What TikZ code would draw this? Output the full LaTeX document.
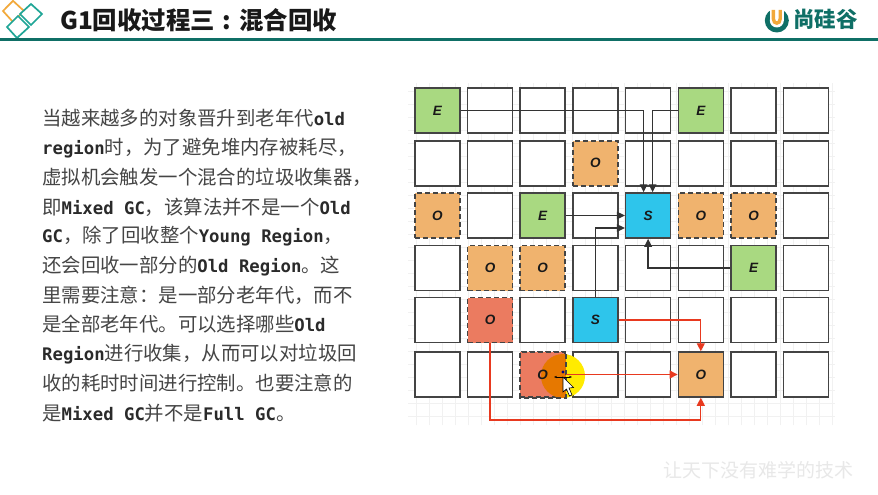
\documentclass[tikz,border=0pt]{standalone}
\usepackage{fontspec}
\usetikzlibrary{arrows.meta,calc}
\setmainfont{Noto Sans CJK SC}
\newfontfamily\lat{Liberation Sans}
\newfontfamily\mon{DejaVu Sans Mono}
\newcommand{\mo}[1]{{\mon\bfseries\fontsize{17.3}{17.3}\selectfont\color{monoc}#1}}
\definecolor{teal1}{HTML}{0F6F66}
\definecolor{teal2}{HTML}{1FA596}
\definecolor{orng}{HTML}{F2A93B}
\definecolor{monoc}{HTML}{2A2A2A}
\definecolor{txtc}{HTML}{454545}
\definecolor{bord}{HTML}{444444}
\definecolor{gr}{HTML}{A9D981}
\definecolor{ol}{HTML}{F0B36E}
\definecolor{bl}{HTML}{2EC5EB}
\definecolor{rd}{HTML}{EB7B60}
\definecolor{redl}{HTML}{E8391F}
\definecolor{hiy}{HTML}{FFEB00}
\definecolor{hio}{HTML}{E67800}
\definecolor{gridc}{HTML}{F1F1F1}
\tikzset{
  cell/.style={draw=bord,fill=white,line width=1.5pt,minimum size=45pt,inner sep=0pt,
    font=\lat\bfseries\itshape\fontsize{13.5}{13.5}\selectfont,text=black!90},
  dashline/.style={dash pattern=on 5pt off 3pt},
  gcell/.style={cell,fill=gr},
  ocell/.style={cell,fill=ol},
  dcell/.style={cell,fill=ol,dashline},
  scell/.style={cell,fill=bl},
  rcell/.style={cell,fill=rd,dashline},
  blk/.style={draw=black!80,line width=1.3pt,-{Triangle[length=8pt,width=7.5pt]}},
  rdl/.style={draw=redl,line width=1.3pt,-{Triangle[length=8pt,width=8pt]}},
  para/.style={anchor=west,inner sep=0pt,text=txtc,font=\fontsize{19.4}{19.4}\selectfont},
  dmd/.style={line width=1.7pt,fill=white}
}
\newcommand{\mkcell}[4]{%
  \pgfmathsetmacro\ry{{110.5,163.3,215.5,268,320,374.5}[#2]}%
  \pgfmathsetmacro\rx{437.3+52.7*#3}%
  \node[#4] (c#2#3) at (\rx,\ry) {#1};}
\begin{document}
\begin{tikzpicture}[x=1pt,y=-1pt]
\useasboundingbox (0,0) rectangle (878,495);
\fill[white] (0,0) rectangle (878,495);
% header
\draw[dmd,draw=orng] (13,0.8) -- (24,11) -- (13,22) -- (3,11) -- cycle;
\draw[dmd,draw=teal2] (31,4) -- (42,14) -- (31,25) -- (20,14) -- cycle;
\draw[dmd,draw=teal2] (18,16) -- (29,27) -- (17,38) -- (7,27) -- cycle;
\draw[teal1,line width=3pt] (0,39.5) -- (878,39.5);
\node[anchor=west,inner sep=0pt,font=\fontsize{24.4}{24.4}\selectfont\bfseries,text=black!90] (title) at (60,20) {G1回收过程三\makebox[1em][c]{:}混合回收};
% logo
\fill[teal1] (776.8,20.5) circle (12);
\fill[white] (776.8,20.5) circle (7);
\fill[white] (769.8,7) rectangle (783.8,20);
\draw[orng,line width=3.4pt] (773.4,10) -- (773.4,19) .. controls (773.4,24.5) and (780.2,24.5) .. (780.2,19) -- (780.2,10);
\node[anchor=west,inner sep=0pt,font=\fontsize{21.5}{21.5}\selectfont\bfseries,text=teal1] (brand) at (793,19) {尚硅谷};
% faint grid
\draw[gridc,line width=.5pt] (408,83) grid[step=13pt] (835,425);
% paragraph
\node[para] (l1) at (42,118) {当越来越多的对象晋升到老年代\mo{old}};
\node[para] (l2) at (42,148) {\mo{region}时，为了避免堆内存被耗尽，};
\node[para] (l3) at (42,177) {虚拟机会触发一个混合的垃圾收集器，};
\node[para] (l4) at (42,207) {即\mo{Mixed GC}，该算法并不是一个\mo{Old}};
\node[para] (l5) at (42,236) {\mo{GC}，除了回收整个\mo{Young Region}，};
\node[para] (l6) at (42,266) {还会回收一部分的\mo{Old Region}。这};
\node[para] (l7) at (42,295) {里需要注意：是一部分老年代，而不};
\node[para] (l8) at (42,324) {是全部老年代。可以选择哪些\mo{Old}};
\node[para] (l9) at (42,354) {\mo{Region}进行收集，从而可以对垃圾回};
\node[para] (l10) at (42,383) {收的耗时时间进行控制。也要注意的};
\node[para] (l11) at (42,413) {是\mo{Mixed GC}并不是\mo{Full GC}。};
% empty cells
\foreach \r/\c in {0/1,0/2,0/3,0/4,0/6,0/7,
  1/0,1/1,1/2,1/4,1/5,1/6,1/7,
  2/1,2/3,2/7,
  3/0,3/3,3/4,3/5,3/7,
  4/0,4/2,4/4,4/5,4/6,4/7,
  5/0,5/1,5/3,5/4,5/6,5/7}{\mkcell{}{\r}{\c}{cell}}
% filled cells
\mkcell{E}{0}{0}{gcell}
\mkcell{E}{0}{5}{gcell}
\mkcell{O}{1}{3}{dcell}
\mkcell{O}{2}{0}{dcell}
\mkcell{E}{2}{2}{gcell}
\mkcell{S}{2}{4}{scell}
\mkcell{O}{2}{5}{dcell}
\mkcell{O}{2}{6}{dcell}
\mkcell{O}{3}{1}{dcell}
\mkcell{O}{3}{2}{dcell}
\mkcell{E}{3}{6}{gcell}
\mkcell{O}{4}{1}{rcell}
\mkcell{S}{4}{3}{scell}
\mkcell{O}{5}{5}{ocell}
% highlight behind the mouse cursor
\coordinate (hi) at (563,376);
\fill[hiy] (hi) circle (22);
\mkcell{}{5}{2}{rcell}
\begin{scope}
  \clip (c52.south west) rectangle (c52.north east);
  \fill[hio] (hi) circle (22);
\end{scope}
\draw[bord,line width=1.5pt,dashline] (c52.south west) rectangle (c52.north east);
\node[font=\lat\bfseries\itshape\fontsize{13.5}{13.5}\selectfont,text=black!90,inner sep=0pt] (olab) at (c52) {O};
% black connectors
\draw[blk] (c00.east) -| ([xshift=-4.5pt]c24.north);
\draw[blk] (c05.west) -| ([xshift=4.5pt]c24.north);
\draw[blk] (c22.east) -- (c24.west);
\draw[blk] (c43.north) |- ([yshift=-12.5pt]c24.west);
\draw[blk] (c36.west) -| (c24.south);
% red connectors
\draw[rdl] (c43.east) -| (c55.north);
\draw[rdl] (c52.east) -- (c55.west);
\coordinate (low) at (490,420);
\draw[rdl] (c41.south) -- (low) -| (c55.south);
% cursor
\draw[black,line width=.8pt,{Stealth[length=3pt]}-{Stealth[length=3pt]}] (554,377) -- (572,377);
\fill[blue!50!black] (563,372) circle (1.6);
\draw[black,fill=white,line width=.6pt] (563,377) -- (563,392) -- (566.5,389) -- (569.5,396) -- (572,395) -- (569,388) -- (573.5,387.5) -- cycle;
% watermark
\node[anchor=west,inner sep=0pt,font=\fontsize{19}{19}\selectfont,text=black!9] (wm) at (663,470) {让天下没有难学的技术};
\end{tikzpicture}
\end{document}
